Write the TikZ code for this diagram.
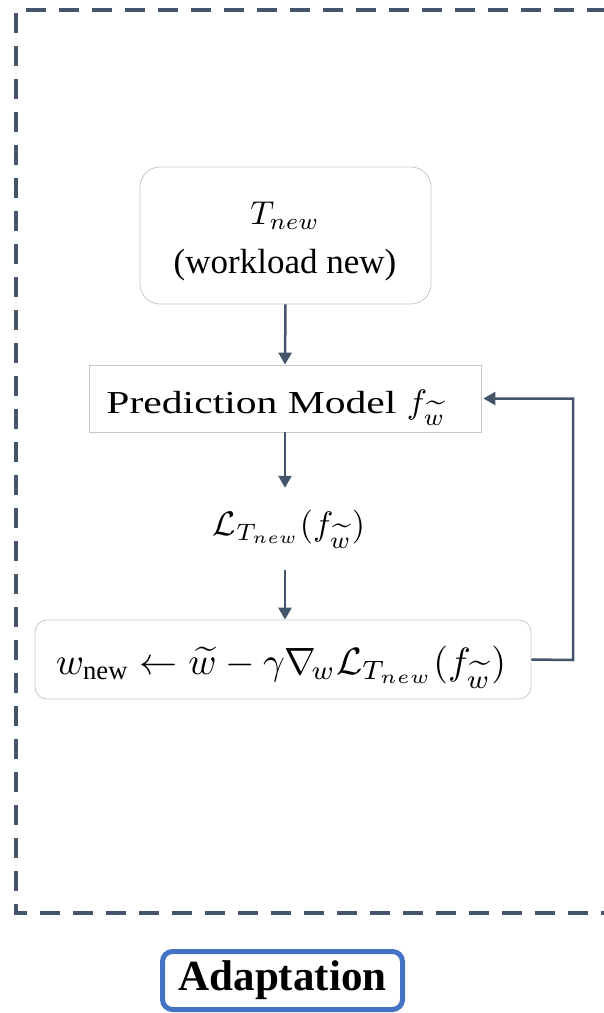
\documentclass[tikz,border=0pt]{standalone}
\usepackage{fontspec}
\usepackage{graphicx}
\setmainfont{Liberation Serif}
\newfontfamily\modelfont[FakeStretch=1.3]{Liberation Serif}
\usetikzlibrary{arrows.meta}
\definecolor{slate}{HTML}{44546A}
\definecolor{boxgray}{HTML}{C8C8C8}
\definecolor{tagblue}{HTML}{4472C4}
\tikzset{
  frame/.style={draw=slate, line width=4.5pt, dash pattern=on 20pt off 13pt},
  softbox/.style={draw=boxgray, line width=0.8pt, rounded corners=#1},
  flow/.style={draw=slate, line width=2.5pt, -{Triangle[length=12pt,width=13pt]}},
  big/.style={font=\fontsize{35}{42}\selectfont},
}
% math set at 10pt and enlarged as a whole
\newcommand{\bigmath}[2][3.5]{\scalebox{#1}{\normalsize$#2$}}
\begin{document}
\begin{tikzpicture}[x=1pt,y=-1pt]
\useasboundingbox (0,0) rectangle (603,1013);
% dashed enclosure, right side runs past the edge
\draw[frame] (640,10) -- (16,10) -- (16,913) -- (640,913);

% boxes and their texts
\node[softbox=20pt, minimum width=291pt, minimum height=137pt] (task) at (285.5,235.5) {};
\node[big, align=center] (tasktext) at (285,241) {\bigmath[3.3]{T_{new}}\\[7pt](workload new)};

\node[draw=boxgray, line width=0.8pt, minimum width=392pt, minimum height=67pt] (model) at (285,398.5) {};
\node[anchor=base, inner sep=0pt] (modeltext) at (276,413)
  {\fontsize{32}{40}\selectfont\modelfont Prediction Model \bigmath[3.4]{f_{\widetilde{w}}}};

\node[minimum height=82pt, inner sep=0pt] (loss) at (289,529) {\bigmath[3.4]{\mathcal{L}_{T_{new}}(f_{\widetilde{w}})}};

\node[softbox=12pt, minimum width=496pt, minimum height=79pt] (upd) at (283,659.5) {};
\node[anchor=base, inner sep=0pt] (updtext) at (281,674)
  {\bigmath[3.8]{w_{\mathrm{new}} \leftarrow \widetilde{w} - \gamma\nabla_{\!w}\mathcal{L}_{T_{new}}(f_{\widetilde{w}})}};

% connectors
\draw[flow] (task.south) -- (model.north);
\draw[flow] (model.south) -- (model.south |- loss.north);
\draw[flow] (model.south |- loss.south) -- (model.south |- upd.north);
\coordinate (bend) at (573,660);
\draw[flow] (upd.east) -- (bend) -- (bend |- model.east) -- ([xshift=2pt]model.east);

% caption tag
\node[draw=tagblue, line width=5pt, rounded corners=10pt, minimum width=240pt, minimum height=58pt,
      font=\fontsize{43}{50}\selectfont\bfseries] (tag) at (282.5,980.5) {Adaptation};
\end{tikzpicture}
\end{document}
